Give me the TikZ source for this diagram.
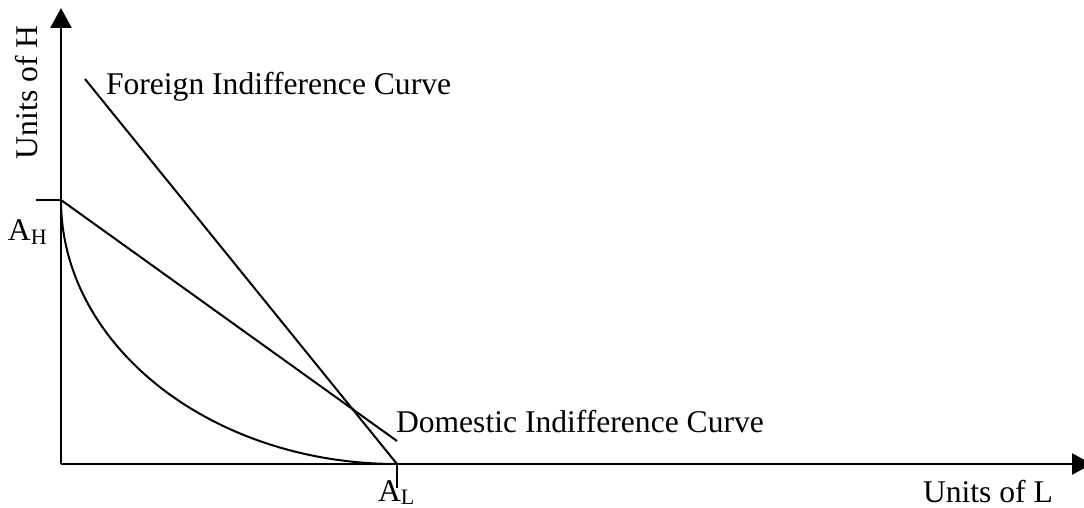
\documentclass[tikz,border=0pt]{standalone}
\usepackage{fontspec}
\setmainfont{Liberation Serif}
\usetikzlibrary{positioning, arrows.meta, calc}

\begin{document}
\begin{tikzpicture}[x=1pt, y=-1pt, line width=2pt,
    lbl/.style={inner sep=0pt, font=\fontsize{31.6}{38}\selectfont},
    axis/.style={line width=2.5pt, -{Triangle[length=20pt, width=21pt]}}]
    \useasboundingbox (0,0) rectangle (1084,508);
    \coordinate (O) at (61,464);
    \coordinate (yend) at (61,8);
    \coordinate (xend) at (1092,464);
    \coordinate (AH) at (61,200);
    \coordinate (AL) at (397,464);
    \coordinate (Ftop) at (85,79);
    \coordinate (Dend) at (397,441);
    \coordinate (AHtick) at (36,200);
    \coordinate (ALtick) at (397,488);
    % axes and ticks
    \draw[axis] (O) -- (yend);
    \draw[axis] (O) -- (xend);
    \draw (AHtick) -- (AH);
    \draw (AL) -- (ALtick);
    % frontier and the two lines
    \draw (AH) arc[start angle=180, end angle=270, x radius=336pt, y radius=264pt];
    \draw (Ftop) -- (AL);
    \draw (AH) -- (Dend);
    % labels
    \node[lbl, anchor=base west] (forlbl) at (105,95) {Foreign Indifference Curve};
    \node[lbl, anchor=base west] (domlbl) at (395,432) {Domestic Indifference Curve};
    \node[lbl, anchor=base west] (ahlbl) at (7,240) {A\lower4pt\hbox{\fontsize{22}{22}\selectfont H}};
    \node[lbl, anchor=base west] (allbl) at (377,501) {A\lower3pt\hbox{\fontsize{22}{22}\selectfont L}};
    \node[lbl, anchor=base west] (xlbl) at (922,502) {Units of L};
    \node[lbl, anchor=base west, rotate=90] (ylbl) at (37,160) {Units of H};
\end{tikzpicture}
\end{document}
